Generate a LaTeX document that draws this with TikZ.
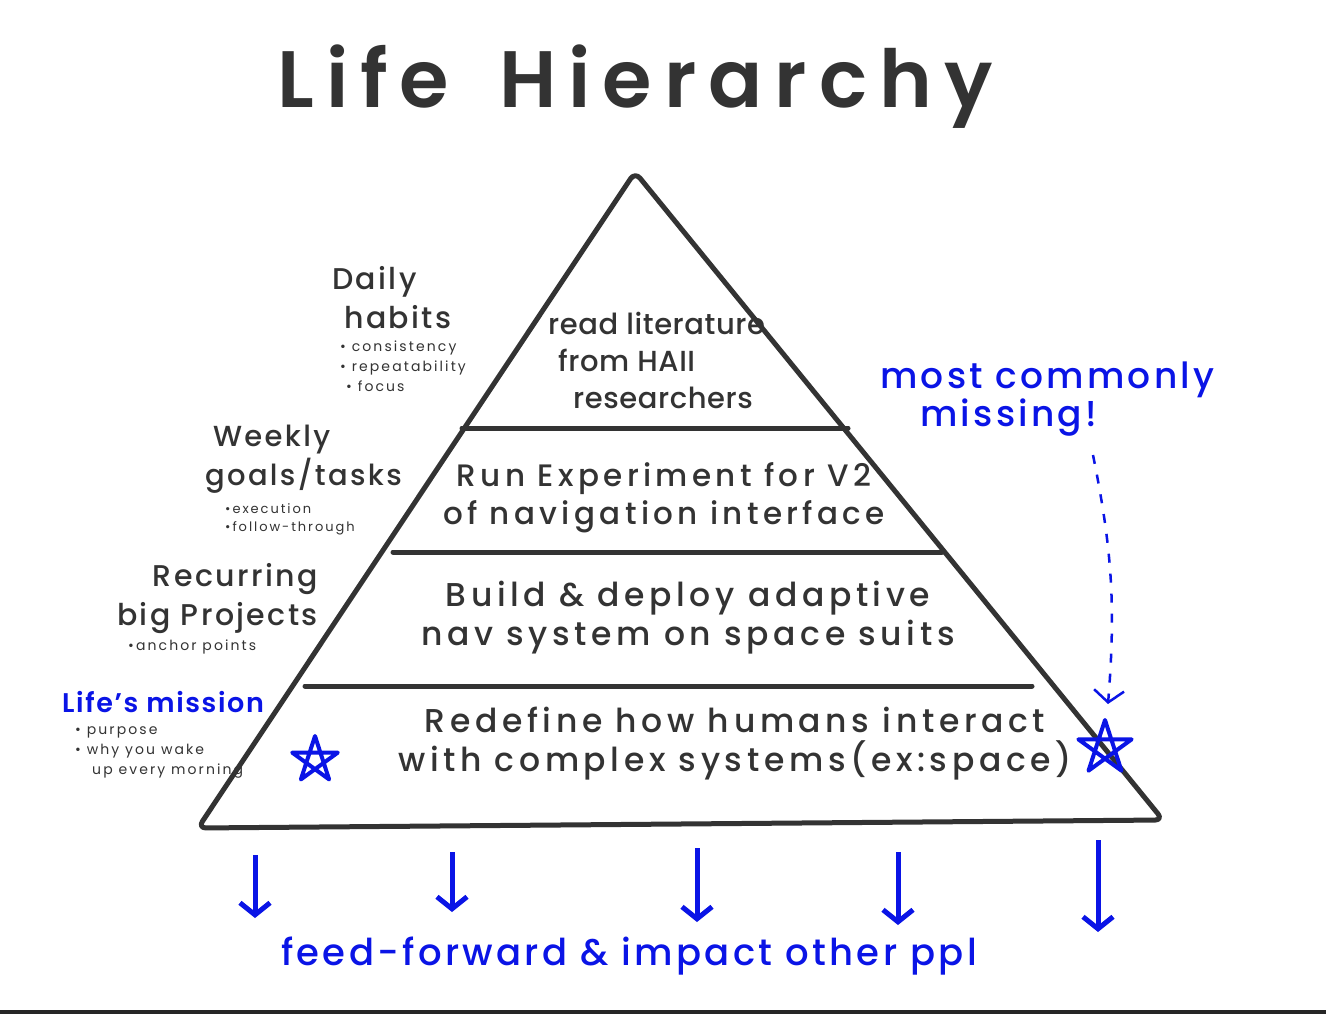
\documentclass[tikz,border=0pt]{standalone}
\usepackage{fontspec}
\setmainfont{Poppins}
\newfontfamily\hand[LetterSpace=8]{Poppins Medium}
\newfontfamily\handtight[LetterSpace=2]{Poppins Medium}
\newfontfamily\handwide[LetterSpace=14]{Poppins Medium}
\newfontfamily\handpen[LetterSpace=9]{Poppins Medium}
\newfontfamily\handnote[LetterSpace=15]{Poppins}
\newfontfamily\handtitle[LetterSpace=15]{Poppins SemiBold}
\newfontfamily\handb[LetterSpace=6]{Poppins SemiBold}
\usepackage{xcolor}
\usetikzlibrary{arrows.meta,calc,positioning}
\definecolor{ink}{HTML}{333333}
\definecolor{pen}{HTML}{0A14E6}
\newcommand{\handstar}[2]{\draw[pen,line width=4pt,line join=round]
  ($(#1)+(-90:#2)$) -- ($(#1)+(54:#2)$) -- ($(#1)+(198:#2)$) -- ($(#1)+(342:#2)$) -- ($(#1)+(126:#2)$) -- cycle;}

\begin{document}
\begin{tikzpicture}[x=1pt,y=-1pt,>=Latex,
  edge/.style={ink,line width=5pt,line cap=round,line join=round},
  tier/.style={ink,align=center,inner sep=0pt,font=\handwide\fontsize{33}{39}\selectfont},
  head/.style={ink,align=left,inner sep=0pt,font=\hand\fontsize{30}{39}\selectfont},
  note/.style={ink,align=left,inner sep=0pt,font=\handnote\fontsize{14}{20}\selectfont},
  penlabel/.style={pen,align=left,inner sep=0pt,font=\handpen\fontsize{36}{34}\selectfont}]
  \useasboundingbox (0,0) rectangle (1326,1014);
  \fill[white] (0,0) rectangle (1326,1010);
  \fill[black!85] (0,1010) rectangle (1326,1014);

  \node[ink,anchor=base,font=\handtitle\fontsize{80}{80}\selectfont] (title) at (635,108) {Life\hspace{50pt}Hierarchy};

  \coordinate (apex) at (635,172);
  \coordinate (bl) at (198,828);
  \coordinate (br) at (1163,820);
  \draw[edge,rounded corners=8pt] (bl) -- (apex) -- (br) -- cycle;
  \draw[edge] (462,428) -- (848,428);
  \draw[edge] (393,552) -- (942,552);
  \draw[edge] (305,686) -- (1032,686);

  \node[tier,align=left,anchor=north west,font=\handtight\fontsize{29}{37}\selectfont] (lit) at (548,312) {read literature\\\hspace*{10pt}from HAII\\\hspace*{25pt}researchers};
  \node[tier,font=\handwide\fontsize{31}{38}\selectfont] (exp) at (664,498) {Run Experiment for V2\\of navigation interface};
  \node[tier] (nav) at (688,618) {Build \& deploy adaptive\\nav system on space suits};
  \node[tier] (mission) at (735,744) {Redefine how humans interact\\with complex systems(ex:space)};

  \node[head,anchor=north west] (daily) at (332,266) {Daily\\\hspace*{12pt}habits};
  \node[note,anchor=north west] (dailyn) at (340,341) {• consistency\\• repeatability\\\hspace*{6pt}• focus};
  \node[head,anchor=north west,font=\hand\fontsize{29}{39}\selectfont] (weekly) at (205,425) {\hspace*{8pt}Weekly\\goals/tasks};
  \node[note,anchor=north west,font=\handnote\fontsize{13}{18}\selectfont] (weeklyn) at (225,503) {•execution\\•follow-through};
  \node[head,anchor=north east,align=right] (projects) at (318,563) {Recurring\\big Projects};
  \node[note,anchor=north west] (projectsn) at (128,640) {•anchor points};
  \node[pen,anchor=north west,inner sep=0pt,font=\handb\fontsize{27}{28}\selectfont] (life) at (62,691) {Life’s mission};
  \node[note,anchor=north west] (lifen) at (75,726) {• purpose\\• why you wake\\\hspace*{17pt}up every morning};

  \handstar{315,760}{24}
  \handstar{1105,748}{28}

  \node[penlabel,anchor=north west] (miss) at (880,362) {most commonly\\\hspace*{40pt}missing!};
  \coordinate (dotA) at (1093,455);
  \coordinate (dotB) at (1108,704);
  \draw[pen,line width=2.5pt,dash pattern=on 9pt off 11pt,-{Straight Barb[length=12pt,width=30pt]}] (dotA) to[bend left=8] (dotB);

  \foreach \x/\a/\b [count=\i] in {255/855/918,452/852/912,697/848/922,898/852/925,1098/840/932} {
    \coordinate (top\i) at (\x,\a);
    \coordinate (tip\i) at (\x,\b);
    \draw[pen,line width=5pt,-{Straight Barb[length=12pt,width=30pt]}] (top\i) -- (tip\i);
  }
  \node[penlabel,anchor=center,font=\handpen\fontsize{37}{38}\selectfont] (feed) at (629,956) {feed-forward \& impact other ppl};
\end{tikzpicture}
\end{document}
